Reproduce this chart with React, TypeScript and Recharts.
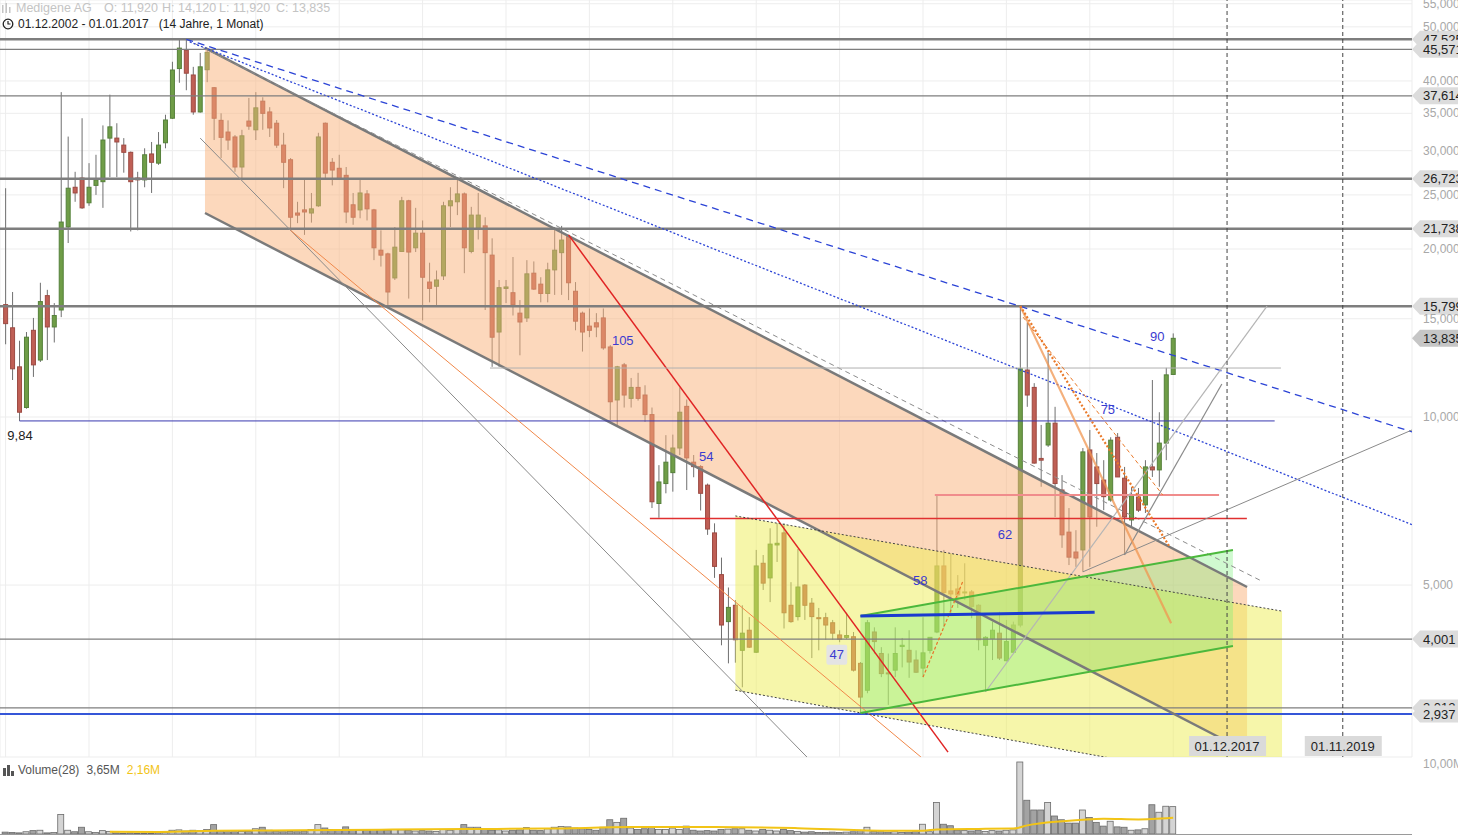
import React from 'react'
import {
  ComposedChart,
  Bar,
  Area,
  Line,
  XAxis,
  YAxis,
  CartesianGrid,
  ReferenceLine,
  ReferenceDot,
} from 'recharts'

const W = 1458
const PRICE_H = 760
const VOL_H = 77
const AXIS_W = 46
// month index: 0 = Jan 2003
const X_DOMAIN: [number, number] = [-0.806, 202.36]
const Y_DOMAIN: [number, number] = [2.46, 55.86]

// [open, high, low, close, volume in Mio.] per month
const y2003 = [
  [15.9, 25.7, 13.5, 14.7, 0.25], [14.45, 16.75, 11.65, 12.2, 0.2], [12.3, 13.7, 9.84, 10.2, 0.15],
  [10.4, 14.2, 10.35, 13.9, 0.3], [14.3, 15.05, 11.8, 12.4, 0.45], [12.65, 17.4, 12.55, 16.1, 0.5],
  [16.5, 16.9, 12.65, 14.5, 0.15], [14.5, 16.0, 13.6, 15.2, 0.2], [15.55, 38.2, 15.1, 22.35, 2.6],
  [21.9, 31.8, 20.5, 25.7, 0.5], [25.8, 27.5, 24.3, 25.2, 0.3], [26.8, 34.3, 23.6, 23.7, 0.9],
]
const y2004 = [
  [24.2, 28.5, 23.9, 25.8, 0.3], [26.0, 29.5, 25.0, 26.6, 0.2], [26.4, 33.3, 23.7, 31.35, 0.45],
  [31.6, 37.8, 26.9, 33.1, 0.35], [31.6, 33.6, 26.9, 31.1, 0.15], [30.7, 31.6, 27.4, 29.8, 0.1],
  [29.8, 29.9, 21.5, 26.4, 0.15], [26.8, 27.5, 21.6, 26.6, 0.1], [26.6, 30.3, 25.8, 29.5, 0.1],
  [29.6, 31.1, 25.2, 28.6, 0.1], [28.5, 32.4, 28.3, 30.7, 0.15], [31.0, 34.8, 30.3, 34.05, 0.2],
]
const y2005 = [
  [34.3, 43.3, 34.2, 41.85, 0.5], [42.1, 47.4, 39.7, 45.8, 0.55], [45.4, 47.525, 38.5, 41.3, 0.4],
  [41.0, 42.4, 34.8, 35.2, 0.5], [35.2, 44.9, 35.1, 42.4, 0.45], [41.9, 45.6, 39.8, 45.0, 0.6],
  [38.9, 39.0, 31.35, 34.3, 1.25], [34.0, 35.0, 29.1, 31.7, 0.4], [32.4, 34.0, 30.1, 31.35, 0.3],
  [31.75, 32.0, 27.5, 28.05, 0.3], [28.05, 32.7, 26.8, 31.9, 0.35], [33.9, 37.3, 32.7, 33.2, 0.35],
]
const y2006 = [
  [32.7, 38.2, 31.35, 35.8, 0.7], [36.8, 37.4, 32.7, 35.0, 0.9], [35.2, 35.9, 31.75, 32.95, 0.5],
  [33.6, 34.05, 30.35, 30.7, 0.4], [30.7, 32.3, 25.7, 28.6, 0.3], [28.9, 29.1, 21.6, 22.8, 0.35],
  [23.2, 24.3, 22.25, 23.0, 0.3], [23.5, 26.6, 21.2, 23.3, 0.4], [23.2, 25.2, 22.3, 23.6, 0.6],
  [23.9, 32.3, 23.8, 31.75, 1.25], [33.6, 33.7, 26.6, 27.35, 0.8], [28.6, 29.1, 26.0, 27.7, 0.6],
]
const y2007 = [
  [27.9, 29.5, 26.6, 26.7, 0.5], [27.1, 28.05, 22.25, 23.3, 0.95], [24.0, 25.2, 22.1, 22.8, 0.55],
  [23.5, 26.6, 22.7, 25.2, 0.5], [25.1, 25.5, 22.5, 23.6, 0.5], [23.5, 23.6, 19.1, 20.1, 0.6],
  [19.9, 21.6, 18.6, 19.5, 0.55], [19.6, 19.7, 15.7, 16.75, 0.5], [17.75, 21.9, 17.6, 20.15, 0.6],
  [19.8, 24.8, 19.8, 24.4, 0.55], [24.4, 24.5, 16.3, 19.75, 0.5], [20.1, 23.7, 19.75, 21.35, 0.4],
]
const y2008 = [
  [21.35, 22.5, 14.9, 17.8, 0.45], [17.45, 18.9, 16.05, 17.0, 0.4], [17.15, 18.3, 15.75, 17.6, 0.35],
  [17.9, 24.3, 17.6, 23.9, 0.6], [23.9, 25.8, 21.9, 24.4, 0.5], [24.3, 26.9, 23.0, 25.1, 0.6],
  [25.1, 25.25, 18.1, 20.1, 1.25], [19.8, 23.8, 19.65, 23.0, 0.9], [21.8, 25.2, 20.8, 23.0, 0.9],
  [22.0, 22.8, 15.55, 19.7, 0.6], [19.5, 20.9, 12.3, 13.9, 0.5], [14.2, 17.6, 12.3, 17.05, 0.55],
]
const y2009 = [
  [17.0, 17.6, 16.0, 17.1, 0.4], [16.7, 19.35, 15.2, 15.9, 0.5], [15.35, 16.2, 12.9, 14.8, 0.55],
  [15.05, 19.1, 14.8, 18.05, 0.85], [18.1, 19.0, 16.9, 16.95, 0.5], [17.3, 17.8, 16.05, 16.65, 0.45],
  [16.65, 18.9, 16.05, 18.35, 0.7], [18.35, 21.9, 16.55, 19.9, 0.9], [19.7, 22.0, 16.55, 20.75, 1.0],
  [21.05, 21.2, 16.2, 17.4, 0.95], [16.8, 17.45, 14.3, 14.85, 0.8], [15.35, 15.45, 13.1, 14.2, 0.7],
]
const y2010 = [
  [14.55, 15.65, 13.9, 14.3, 0.6], [14.75, 15.35, 13.9, 14.5, 0.5], [15.05, 15.65, 13.2, 13.3, 0.9],
  [13.35, 13.45, 9.88, 10.65, 1.9], [10.73, 12.35, 9.6, 12.3, 1.55], [12.4, 12.5, 10.4, 10.95, 2.1],
  [10.8, 11.75, 10.4, 11.3, 0.8], [11.3, 12.0, 10.7, 10.8, 0.6], [10.95, 11.4, 9.8, 10.1, 0.7],
  [10.1, 10.4, 6.87, 7.05, 1.0], [7.0, 8.2, 6.6, 7.65, 0.6], [7.6, 9.28, 7.3, 8.3, 0.6],
]
const y2011 = [
  [7.95, 9.3, 7.35, 8.8, 0.8], [8.8, 11.3, 8.55, 10.2, 0.6], [10.45, 10.75, 7.4, 8.45, 1.05],
  [8.3, 8.55, 7.8, 8.15, 0.5], [8.15, 8.2, 6.8, 7.3, 0.4], [7.55, 7.6, 6.15, 6.3, 0.45],
  [6.2, 6.45, 5.15, 5.4, 0.4], [5.22, 5.6, 3.9, 4.24, 0.6], [4.3, 4.95, 3.62, 4.56, 0.65],
  [4.6, 4.7, 3.63, 3.99, 0.7], [3.82, 4.6, 3.28, 4.1, 0.7], [4.15, 4.38, 3.86, 3.87, 0.5],
]
const y2012 = [
  [3.79, 5.78, 3.78, 5.41, 0.4], [5.47, 5.66, 4.9, 5.04, 0.6], [5.15, 6.32, 4.66, 5.92, 0.5],
  [5.9, 6.45, 5.5, 5.94, 0.4], [6.2, 6.45, 4.18, 4.46, 0.6], [4.6, 5.06, 4.28, 4.3, 0.45],
  [4.39, 5.8, 4.32, 4.96, 0.35], [5.0, 5.02, 4.33, 4.6, 0.25], [4.64, 4.74, 3.7, 4.39, 0.3],
  [4.37, 4.55, 3.82, 4.36, 0.2], [4.37, 4.46, 3.99, 4.24, 0.2], [4.28, 4.33, 3.99, 4.1, 0.25],
]
const y2013 = [
  [4.07, 4.15, 3.95, 4.0, 0.2], [4.03, 4.46, 4.0, 4.06, 0.25], [4.04, 4.12, 3.5, 3.52, 0.3],
  [3.62, 3.64, 2.937, 3.15, 0.5], [3.24, 4.33, 3.2, 4.28, 0.9], [4.12, 4.2, 3.77, 3.96, 0.35],
  [3.77, 3.87, 3.42, 3.47, 0.3], [3.48, 3.77, 3.05, 3.47, 0.25], [3.52, 4.2, 3.42, 3.77, 0.3],
  [3.88, 4.02, 3.56, 3.9, 0.2], [3.82, 4.15, 3.41, 3.64, 0.25], [3.67, 3.82, 3.48, 3.49, 0.3],
]
const y2014 = [
  [3.55, 4.38, 3.42, 3.78, 1.3], [3.82, 4.03, 3.77, 4.03, 0.3], [4.12, 7.25, 4.1, 5.41, 4.2],
  [5.41, 5.78, 4.2, 4.85, 1.3], [4.88, 5.7, 4.42, 4.82, 1.1], [4.92, 5.21, 4.55, 4.8, 0.5],
  [4.84, 5.47, 4.7, 4.86, 0.45], [4.86, 4.9, 4.36, 4.58, 0.4], [4.6, 4.62, 3.82, 3.99, 0.5],
  [3.9, 4.05, 3.22, 4.03, 0.35], [4.01, 4.3, 3.67, 4.15, 0.45], [4.1, 4.48, 3.67, 3.7, 0.4],
]
const y2015 = [
  [3.66, 4.33, 3.65, 3.96, 0.5], [3.79, 4.3, 3.78, 4.24, 0.55], [4.24, 15.799, 4.2, 12.2, 9.6],
  [12.14, 14.75, 10.43, 10.95, 4.5], [11.3, 11.5, 8.25, 8.27, 3.2], [8.43, 9.68, 7.5, 8.37, 3.2],
  [8.91, 13.05, 8.84, 9.75, 4.2], [9.75, 10.43, 6.62, 7.6, 2.4], [7.4, 7.87, 5.83, 6.15, 1.9],
  [6.22, 6.87, 5.43, 5.61, 1.45], [5.73, 6.27, 5.39, 5.59, 1.45], [5.78, 8.8, 5.28, 8.66, 3.2],
]
const y2016 = [
  [8.73, 9.48, 5.39, 6.62, 2.2], [8.14, 8.62, 6.36, 7.6, 1.55], [7.71, 8.37, 6.81, 7.2, 1.05],
  [7.1, 9.2, 7.05, 9.09, 1.7], [9.2, 9.36, 7.81, 7.81, 0.95], [7.77, 8.14, 5.66, 6.62, 0.9],
  [6.54, 7.49, 6.36, 7.25, 0.5], [7.19, 7.46, 6.76, 6.81, 0.55], [6.96, 8.37, 6.73, 8.14, 0.7],
  [8.14, 11.65, 7.81, 8.04, 3.9], [8.04, 10.2, 7.5, 8.98, 2.9], [8.98, 12.25, 8.37, 11.9, 3.7],
]
const y2017 = [[11.92, 14.12, 11.92, 13.835, 3.65]]

const yearLabels = [
  "Jan '03", "Jan '04", "Jan '05", "Jan '06", "Jan '07", "Jan '08", "Jan '09", "Jan '10",
  "Jan '11", "Jan '12", "Jan '13", "Jan '14", "Jan '15", "Jan '16", "Jan '17",
]
const priceTicks = [5, 10, 15, 20, 25, 30, 35, 40, 50, 55]

// horizontal support / resistance levels
const levels = [
  { p: 47.525, label: '47,525', w: 2.5, color: '#7e7e7e' },
  { p: 45.571, label: '45,571', w: 1.2, color: '#7e7e7e' },
  { p: 37.614, label: '37,614', w: 1.2, color: '#7e7e7e' },
  { p: 26.723, label: '26,723', w: 2.5, color: '#7e7e7e' },
  { p: 21.738, label: '21,738', w: 2.5, color: '#7e7e7e' },
  { p: 15.799, label: '15,799', w: 2.5, color: '#7e7e7e' },
  { p: 4.001, label: '4,001', w: 1.2, color: '#7e7e7e' },
  { p: 3.012, label: '3,012', w: 1.2, color: '#7e7e7e' },
  { p: 2.937, label: '2,937', w: 2, color: '#3556d8' },
]
const lastPrice = { p: 13.835, label: '13,835' }

// drawn trend lines: [month, price] -> [month, price]
const trendLines = [
  { a: [28.69, 45.83], b: [178.63, 4.96], color: '#7a7a7a', w: 2.5, dash: '' },
  { a: [28.69, 23.2], b: [178.63, 2.514], color: '#7a7a7a', w: 2.5, dash: '' },
  { a: [26, 47.5], b: [180.5, 5.1], color: '#8c8c8c', w: 1, dash: '5 4' },
  { a: [26, 47.5], b: [209, 8.85], color: '#2c44d6', w: 1.3, dash: '7 5' },
  { a: [26.5, 47.0], b: [209, 5.95], color: '#2c44d6', w: 1.3, dash: '2 2' },
  { a: [81, 21.2], b: [135.6, 2.51], color: '#e02424', w: 1.5, dash: '' },
  { a: [92.7, 6.58], b: [178.6, 6.58], color: '#e03030', w: 1.5, dash: '' },
  { a: [133.7, 7.25], b: [174.6, 7.25], color: '#f08c8c', w: 2, dash: '' },
  { a: [69.7, 12.24], b: [183.5, 12.24], color: '#b0b0b0', w: 1, dash: '' },
  { a: [2, 9.84], b: [182.6, 9.84], color: '#3838b0', w: 1, dash: '' },
  { a: [28, 31.6], b: [115.3, 2.46], color: '#8a8a8a', w: 1, dash: '' },
  { a: [41, 21.6], b: [131.7, 2.46], color: '#f0884a', w: 1, dash: '' },
  { a: [141, 3.22], b: [181.5, 15.8], color: '#b5b5b5', w: 1.2, dash: '' },
  { a: [155, 5.28], b: [209, 10.29], color: '#8a8a8a', w: 1, dash: '' },
  { a: [161, 5.66], b: [175, 11.46], color: '#8a8a8a', w: 1.2, dash: '' },
  { a: [146, 15.799], b: [167.7, 4.27], color: 'rgba(240,150,80,0.75)', w: 2.2, dash: '' },
  { a: [146, 15.799], b: [167.5, 5.85], color: '#ea7a2a', w: 2.2, dash: '2 2' },
  { a: [146.4, 15.1], b: [166.5, 7.25], color: '#ea7a2a', w: 1, dash: '4 3' },
  { a: [132, 3.42], b: [137.8, 5.1], color: '#e8742a', w: 1.2, dash: '3 2' },
  { a: [105, 6.65], b: [183.66, 4.49], color: '#444444', w: 1, dash: '2 2' },
  { a: [105, 3.24], b: [183.66, 2.155], color: '#444444', w: 1, dash: '2 2' },
  { a: [123, 4.4], b: [176.6, 5.78], color: '#4cb83c', w: 2, dash: '' },
  { a: [123, 2.95], b: [176.6, 3.89], color: '#4cb83c', w: 2, dash: '' },
  { a: [123, 4.4], b: [156.7, 4.47], color: '#1a3ad0', w: 3, dash: '' },
]

// shaded channels: left/right month with [low, high] price
const channels = [
  { left: 28.69, right: 178.63, lo: [23.2, 2.514], hi: [45.83, 4.96], fill: '#fab27a', op: 0.5 },
  { left: 105, right: 183.66, lo: [3.24, 2.155], hi: [6.65, 4.49], fill: '#eeee55', op: 0.5 },
  { left: 123, right: 176.6, lo: [2.95, 3.89], hi: [4.4, 5.78], fill: '#77ee77', op: 0.35 },
]

const notes = [
  { m: 88.8, p: 13.69, text: '105', color: '#3b3bd0', box: false },
  { m: 100.8, p: 8.48, text: '54', color: '#3b3bd0', box: false },
  { m: 119.6, p: 3.75, text: '47', color: '#3b3bd0', box: true },
  { m: 131.6, p: 5.1, text: '58', color: '#3b3bd0', box: false },
  { m: 143.8, p: 6.15, text: '62', color: '#3b3bd0', box: false },
  { m: 158.6, p: 10.3, text: '75', color: '#3b3bd0', box: false },
  { m: 165.7, p: 13.96, text: '90', color: '#3b3bd0', box: false },
  { m: 2.07, p: 9.25, text: '9,84', color: '#222222', box: false },
]

const futureMarks = [
  { m: 175.75, label: '01.12.2017' },
  { m: 192.4, label: '01.11.2019' },
]

// Volume(28) average
const volumeMA = [
  { m: 15, v: 0.3 }, { m: 22, v: 0.28 }, { m: 30, v: 0.42 }, { m: 42, v: 0.5 }, { m: 54, v: 0.58 },
  { m: 66, v: 0.66 }, { m: 78, v: 0.72 }, { m: 90, v: 0.92 }, { m: 102, v: 0.95 }, { m: 114, v: 0.78 },
  { m: 126, v: 0.45 }, { m: 132, v: 0.45 }, { m: 134, v: 0.6 }, { m: 140, v: 0.68 }, { m: 145, v: 0.72 },
  { m: 147, v: 1.15 }, { m: 152, v: 1.7 }, { m: 158, v: 2.05 }, { m: 163, v: 1.95 }, { m: 165, v: 2.0 },
  { m: 168, v: 2.16 },
]

const monthly = [
  ...y2003, ...y2004, ...y2005, ...y2006, ...y2007, ...y2008, ...y2009, ...y2010,
  ...y2011, ...y2012, ...y2013, ...y2014, ...y2015, ...y2016, ...y2017,
]
const candles = monthly.map(([o, h, l, c, v], m) => ({
  m, o, h, l, c, v,
  wick: [l, h],
  body: [Math.min(o, c), Math.max(o, c)],
  up: c >= o,
}))
const yearTicks = yearLabels.map((_, i) => i * 12)

const fmtPrice = (v: number) => v.toFixed(3).replace('.', ',')

function WickShape(props: any) {
  const { x, y, width, height } = props
  if (x == null || y == null) return null
  const top = height < 0 ? y + height : y
  return <rect x={x + width / 2 - 0.5} y={top} width={1} height={Math.max(Math.abs(height), 1)} fill="#707070" />
}

function BodyShape(props: any) {
  const { x, y, width, height } = props
  if (x == null || y == null) return null
  const d = props.payload ?? props
  const top = height < 0 ? y + height : y
  const h = Math.max(Math.abs(height), 1)
  return (
    <rect
      x={x + 0.5}
      y={top}
      width={width - 1}
      height={h}
      fill={d.up ? '#6f9d47' : '#bf5f55'}
      stroke={d.up ? '#55803a' : '#9c4a42'}
      strokeWidth={1}
    />
  )
}

function VolShape(props: any) {
  const { x, y, width, height } = props
  if (x == null || y == null) return null
  const d = props.payload ?? props
  return (
    <rect x={x} y={y} width={width} height={Math.max(height, 0)}
      fill={d.up ? '#d4d4d4' : '#a3a3a3'} stroke="#6a6a6a" strokeWidth={0.8} />
  )
}

function YearTick(props: any) {
  const { x, y, payload } = props
  const label = yearLabels[Math.round(payload.value / 12)]
  return (
    <g>
      <line x1={x} x2={x} y1={y} y2={y - 4} stroke="#777" />
      <text x={x} y={y - 9} textAnchor="middle" fontSize={12} fill="#8c8c8c">{label}</text>
    </g>
  )
}

function PriceTick(props: any) {
  const { x, y, payload } = props
  return (
    <text x={x + 11} y={y + 4} fontSize={12} fill="#a8a8a8">{fmtPrice(payload.value)}</text>
  )
}

function PriceTag(props: any) {
  const { viewBox, text, dark } = props
  if (!viewBox) return null
  const x0 = viewBox.x + viewBox.width
  const y = viewBox.y
  return (
    <g>
      <polygon
        points={`${x0},${y} ${x0 + 8},${y - 8.5} ${x0 + 80},${y - 8.5} ${x0 + 80},${y + 8.5} ${x0 + 8},${y + 8.5}`}
        fill={dark ? '#c6c6c6' : '#dcdcdc'}
      />
      <text x={x0 + 11} y={y + 4.5} fontSize={13} fill="#222">{text}</text>
    </g>
  )
}

function DateTag(props: any) {
  const { viewBox, text } = props
  if (!viewBox) return null
  const cx = viewBox.x
  const bottom = viewBox.y + viewBox.height
  return (
    <g>
      <rect x={cx - 38} y={bottom - 21} width={77} height={20} fill="#dadada" />
      <text x={cx} y={bottom - 6} textAnchor="middle" fontSize={13} fill="#222">{text}</text>
    </g>
  )
}

function NoteText(props: any) {
  const { cx, cy, note } = props
  if (cx == null || cy == null) return null
  const wide = note.text.length * 7.4
  return (
    <g>
      {note.box && <rect x={cx - wide / 2 - 3} y={cy - 10} width={wide + 6} height={20} rx={2} fill="#e4e4e4" />}
      <text x={cx} y={cy + 4.5} textAnchor="middle" fontSize={13} fill={note.color}>{note.text}</text>
    </g>
  )
}

export default function App() {
  return (
    <div
      style={{
        position: 'absolute',
        left: 0,
        top: 0,
        width: W,
        height: 836,
        background: '#fff',
        overflow: 'hidden',
        fontFamily: '"Liberation Sans", Arial, sans-serif',
      }}
    >
      <div style={{ position: 'absolute', left: 0, top: 0 }}>
        <ComposedChart width={W} height={PRICE_H} data={candles} margin={{ top: 0, right: 0, bottom: 0, left: 0 }}>
          <XAxis
            xAxisId="ov"
            type="number"
            dataKey="m"
            domain={X_DOMAIN}
            allowDataOverflow
            ticks={yearTicks}
            interval={0}
            tick={<YearTick />}
            tickLine={false}
            tickSize={0}
            tickMargin={0}
            height={3}
            axisLine={{ stroke: '#9a9a9a' }}
          />
          <XAxis xAxisId="wick" type="number" dataKey="m" domain={X_DOMAIN} allowDataOverflow hide />
          <XAxis xAxisId="body" type="number" dataKey="m" domain={X_DOMAIN} allowDataOverflow hide />
          <YAxis
            yAxisId="p"
            orientation="right"
            type="number"
            scale="log"
            domain={Y_DOMAIN}
            allowDataOverflow
            ticks={priceTicks}
            interval={0}
            width={AXIS_W}
            tick={<PriceTick />}
            tickLine={false}
            axisLine={false}
            tickSize={0}
            tickMargin={0}
          />
          <CartesianGrid xAxisId="ov" yAxisId="p" stroke="#ededed" />

          <Bar xAxisId="wick" yAxisId="p" dataKey="wick" barSize={3} shape={<WickShape />} isAnimationActive={false} />
          <Bar xAxisId="body" yAxisId="p" dataKey="body" barSize={5} shape={<BodyShape />} isAnimationActive={false} />

          {channels.map((ch, i) => (
            <Area
              key={`ch${i}`}
              xAxisId="ov"
              yAxisId="p"
              data={[
                { m: ch.left, r: [ch.lo[0], ch.hi[0]] },
                { m: ch.right, r: [ch.lo[1], ch.hi[1]] },
              ]}
              dataKey="r"
              type="linear"
              stroke="none"
              fill={ch.fill}
              fillOpacity={ch.op}
              dot={false}
              activeDot={false}
              zIndex={350}
              isAnimationActive={false}
            />
          ))}

          {levels.map((lv) => (
            <ReferenceLine
              key={lv.label}
              xAxisId="ov"
              yAxisId="p"
              y={lv.p}
              stroke={lv.color}
              strokeWidth={lv.w}
              label={<PriceTag text={lv.label} />}
            />
          ))}
          <ReferenceLine
            xAxisId="ov"
            yAxisId="p"
            y={lastPrice.p}
            stroke="none"
            label={<PriceTag text={lastPrice.label} dark />}
          />

          {trendLines.map((t, i) => (
            <ReferenceLine
              key={`t${i}`}
              xAxisId="ov"
              yAxisId="p"
              segment={[{ x: t.a[0], y: t.a[1] }, { x: t.b[0], y: t.b[1] }]}
              stroke={t.color}
              strokeWidth={t.w}
              strokeDasharray={t.dash || undefined}
              ifOverflow="hidden"
            />
          ))}

          {futureMarks.map((f) => (
            <ReferenceLine
              key={f.label}
              xAxisId="ov"
              yAxisId="p"
              x={f.m}
              stroke="#444"
              strokeDasharray="4 3"
              label={<DateTag text={f.label} />}
            />
          ))}

          {notes.map((n) => (
            <ReferenceDot
              key={n.text}
              xAxisId="ov"
              yAxisId="p"
              x={n.m}
              y={n.p}
              r={0}
              ifOverflow="visible"
              shape={(p: any) => <NoteText {...p} note={n} />}
            />
          ))}
        </ComposedChart>
      </div>

      <div style={{ position: 'absolute', left: 0, top: 759 }}>
        <ComposedChart width={W} height={VOL_H} data={candles} margin={{ top: 0, right: 0, bottom: 2, left: 0 }}>
          <XAxis xAxisId="v" type="number" dataKey="m" domain={X_DOMAIN} allowDataOverflow hide />
          <XAxis xAxisId="ma" type="number" dataKey="m" domain={X_DOMAIN} allowDataOverflow hide />
          <YAxis
            yAxisId="v"
            orientation="right"
            type="number"
            domain={[0, 10]}
            ticks={[10]}
            width={AXIS_W}
            tick={false}
            tickLine={false}
            axisLine={false}
          />
          <Bar xAxisId="v" yAxisId="v" dataKey="v" barSize={6} shape={<VolShape />} isAnimationActive={false} />
          <Line
            xAxisId="ma"
            yAxisId="v"
            data={volumeMA}
            dataKey="v"
            type="monotone"
            stroke="#f2c416"
            strokeWidth={2}
            dot={false}
            activeDot={false}
            isAnimationActive={false}
          />
        </ComposedChart>
      </div>
      <div style={{ position: 'absolute', left: 0, top: 834, width: 1412, height: 1, background: '#9a9a9a' }} />
      <div style={{ position: 'absolute', left: 1423, top: 757, fontSize: 12, color: '#a8a8a8', whiteSpace: 'nowrap' }}>
        10,00M
      </div>

      {/* header */}
      <svg style={{ position: 'absolute', left: 1, top: 3 }} width={11} height={11}>
        <rect x={1} y={2} width={1.5} height={8} fill="#c4c4c4" />
        <rect x={4.5} y={0} width={1.5} height={10} fill="#c4c4c4" />
        <rect x={8} y={4} width={1.5} height={6} fill="#c4c4c4" />
      </svg>
      <div style={{ position: 'absolute', top: 1, left: 0, fontSize: 12.5, color: '#c4c4c4', whiteSpace: 'nowrap' }}>
        <span style={{ position: 'absolute', left: 16 }}>Medigene AG</span>
        <span style={{ position: 'absolute', left: 104 }}>O: 11,920</span>
        <span style={{ position: 'absolute', left: 162 }}>H: 14,120</span>
        <span style={{ position: 'absolute', left: 219 }}>L: 11,920</span>
        <span style={{ position: 'absolute', left: 276 }}>C: 13,835</span>
      </div>
      <svg style={{ position: 'absolute', left: 2, top: 18 }} width={12} height={12}>
        <circle cx={6} cy={6} r={4.8} fill="none" stroke="#222" strokeWidth={1.3} />
        <path d="M6 3 V6 H8.5" fill="none" stroke="#222" strokeWidth={1.2} />
      </svg>
      <div style={{ position: 'absolute', top: 17, left: 18, fontSize: 12, color: '#222', whiteSpace: 'nowrap' }}>
        01.12.2002 - 01.01.2017&nbsp;&nbsp;&nbsp;(14 Jahre, 1 Monat)
      </div>

      {/* volume legend */}
      <svg style={{ position: 'absolute', left: 3, top: 765 }} width={12} height={11}>
        <rect x={0} y={3} width={3} height={8} fill="#555" />
        <rect x={4} y={0} width={3} height={11} fill="#555" />
        <rect x={8} y={6} width={3} height={5} fill="#555" />
      </svg>
      <div style={{ position: 'absolute', top: 763, left: 18, fontSize: 12, color: '#555', whiteSpace: 'nowrap' }}>
        <span>Volume(28)</span>
        <span style={{ marginLeft: 7 }}>3,65M</span>
        <span style={{ marginLeft: 7, color: '#f2c416' }}>2,16M</span>
      </div>
    </div>
  )
}
